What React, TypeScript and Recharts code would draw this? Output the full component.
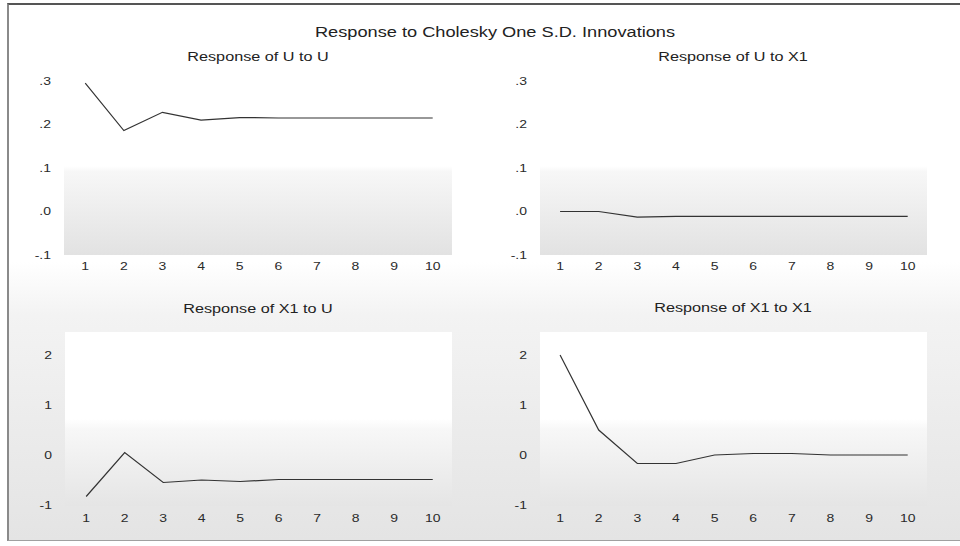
import React from 'react';
import { LineChart, Line, XAxis, YAxis, CartesianGrid } from 'recharts';

// ---- data ----
const periods = [1, 2, 3, 4, 5, 6, 7, 8, 9, 10];
const responseUtoU = [0.295, 0.186, 0.228, 0.21, 0.216, 0.215, 0.215, 0.215, 0.215, 0.215];
const responseUtoX1 = [0.0, 0.0, -0.013, -0.011, -0.011, -0.011, -0.011, -0.011, -0.011, -0.011];
const responseX1toU = [-0.83, 0.05, -0.55, -0.5, -0.53, -0.49, -0.49, -0.49, -0.49, -0.49];
const responseX1toX1 = [2.0, 0.5, -0.17, -0.17, 0.0, 0.03, 0.03, 0.0, 0.0, 0.0];
const topYTicks = [-0.1, 0, 0.1, 0.2, 0.3];
const bottomYTicks = [-1, 0, 1, 2];

const mainTitle = 'Response to Cholesky One S.D. Innovations';
const titleUtoU = 'Response of U to U';
const titleUtoX1 = 'Response of U to X1';
const titleX1toU = 'Response of X1 to U';
const titleX1toX1 = 'Response of X1 to X1';

const FONT = "Arial, 'Liberation Sans', Helvetica, sans-serif";

const fmtDecimal = (v: number) => {
  const s = v.toFixed(1);
  return s.replace(/^(-?)0\./, '$1.');
};
const fmtInt = (v: number) => String(Math.round(v));

const YTick = (props: any) => {
  const { x, y, payload, fmt } = props;
  return (
    <g transform={`translate(${x},${y})`}>
      <text transform="scale(1.4,1)" textAnchor="end" dy="0.35em" fontSize={10} fill="#2a2a2a" fontFamily={FONT}>
        {fmt(payload.value)}
      </text>
    </g>
  );
};

const XTick = (props: any) => {
  const { x, y, payload } = props;
  return (
    <g transform={`translate(${x},${y})`}>
      <text transform="scale(1.4,1)" textAnchor="middle" dy="0.71em" fontSize={10} fill="#2a2a2a" fontFamily={FONT}>
        {payload.value}
      </text>
    </g>
  );
};

type PanelProps = {
  left: number;
  top: number;
  yAxisWidth: number;
  marginRight: number;
  values: number[];
  yDomain: [number, number];
  yTicks: number[];
  fmt: (v: number) => string;
  xDomain: [number, number];
  gradId: string;
  xTickMargin: number;
};

const Panel = (p: PanelProps) => {
  const data = periods.map((period, i) => ({ period, value: p.values[i] }));
  return (
    <div style={{ position: 'absolute', left: p.left, top: p.top }}>
      <LineChart width={480} height={214} data={data} margin={{ top: 10, right: p.marginRight, bottom: 0, left: 0 }}>
        <CartesianGrid horizontal={false} vertical={false} fill={`url(#${p.gradId})`} stroke="none" />
        <XAxis
          type="number"
          dataKey="period"
          domain={p.xDomain}
          ticks={periods}
          allowDataOverflow
          axisLine={false}
          tickLine={false}
          tickSize={0}
          tickMargin={p.xTickMargin}
          height={30}
          interval={0}
          tick={<XTick />}
        />
        <YAxis
          type="number"
          domain={p.yDomain}
          ticks={p.yTicks}
          allowDataOverflow
          axisLine={false}
          tickLine={false}
          tickSize={0}
          tickMargin={13}
          width={p.yAxisWidth}
          interval={0}
          tick={<YTick fmt={p.fmt} />}
        />
        <Line
          type="linear"
          dataKey="value"
          stroke="#333"
          strokeWidth={1.2}
          dot={false}
          isAnimationActive={false}
        />
      </LineChart>
    </div>
  );
};

const Title = ({ text, cx, cy, size, scale }: { text: string; cx: number; cy: number; size: number; scale: number }) => (
  <div
    style={{
      position: 'absolute',
      left: cx,
      top: cy - size * 0.6,
      fontFamily: FONT,
      fontSize: size,
      lineHeight: `${size * 1.2}px`,
      color: '#222',
      whiteSpace: 'nowrap',
      transform: `translateX(-50%) scaleX(${scale})`,
    }}
  >
    {text}
  </div>
);

export default function App() {
  return (
    <div style={{ position: 'absolute', left: 0, top: 0, width: 960, height: 546, overflow: 'hidden', background: '#fff' }}>
      <svg width={0} height={0} style={{ position: 'absolute' }}>
        <defs>
          <linearGradient id="plotGradTop" x1="0" y1="0" x2="0" y2="1">
            <stop offset="0" stopColor="#ffffff" />
            <stop offset="0.49" stopColor="#ffffff" />
            <stop offset="0.52" stopColor="#f7f7f7" />
            <stop offset="1" stopColor="#e2e2e2" />
          </linearGradient>
          <linearGradient id="plotGradBottom" x1="0" y1="0" x2="0" y2="1">
            <stop offset="0" stopColor="#ffffff" />
            <stop offset="0.5" stopColor="#ffffff" />
            <stop offset="0.56" stopColor="#f7f7f7" />
            <stop offset="1" stopColor="#e5e5e5" />
          </linearGradient>
        </defs>
      </svg>
      <div
        style={{
          position: 'absolute',
          left: 7,
          top: 3,
          width: 953,
          height: 538,
          borderTop: '2px solid #555',
          borderLeft: '2px solid #8a8a8a',
          borderBottom: '1px solid #a0a0a0',
          boxSizing: 'border-box',
          background: 'linear-gradient(to bottom, #ffffff 0%, #ffffff 48%, #f3f3f3 58%, #ebebeb 80%, #e4e4e4 100%)',
        }}
      />
      <Title text={mainTitle} cx={495} cy={32} size={14} scale={1.3} />
      <Title text={titleUtoU} cx={258} cy={57} size={12} scale={1.35} />
      <Title text={titleUtoX1} cx={733} cy={57} size={12} scale={1.35} />
      <Title text={titleX1toU} cx={258} cy={309} size={12} scale={1.35} />
      <Title text={titleX1toX1} cx={733} cy={308} size={12} scale={1.35} />

      <Panel left={0} top={71} yAxisWidth={64} marginRight={28} values={responseUtoU} yDomain={[-0.1, 0.3]} yTicks={topYTicks} fmt={fmtDecimal} xDomain={[0.45, 10.5]} gradId="plotGradTop" xTickMargin={8} />
      <Panel left={480} top={71} yAxisWidth={60} marginRight={33} values={responseUtoX1} yDomain={[-0.1, 0.3]} yTicks={topYTicks} fmt={fmtDecimal} xDomain={[0.48, 10.5]} gradId="plotGradTop" xTickMargin={8} />
      <Panel left={0} top={322} yAxisWidth={65} marginRight={28} values={responseX1toU} yDomain={[-1.02, 2.46]} yTicks={bottomYTicks} fmt={fmtInt} xDomain={[0.45, 10.5]} gradId="plotGradBottom" xTickMargin={9} />
      <Panel left={480} top={322} yAxisWidth={60} marginRight={33} values={responseX1toX1} yDomain={[-1.02, 2.46]} yTicks={bottomYTicks} fmt={fmtInt} xDomain={[0.48, 10.5]} gradId="plotGradBottom" xTickMargin={9} />
    </div>
  );
}
